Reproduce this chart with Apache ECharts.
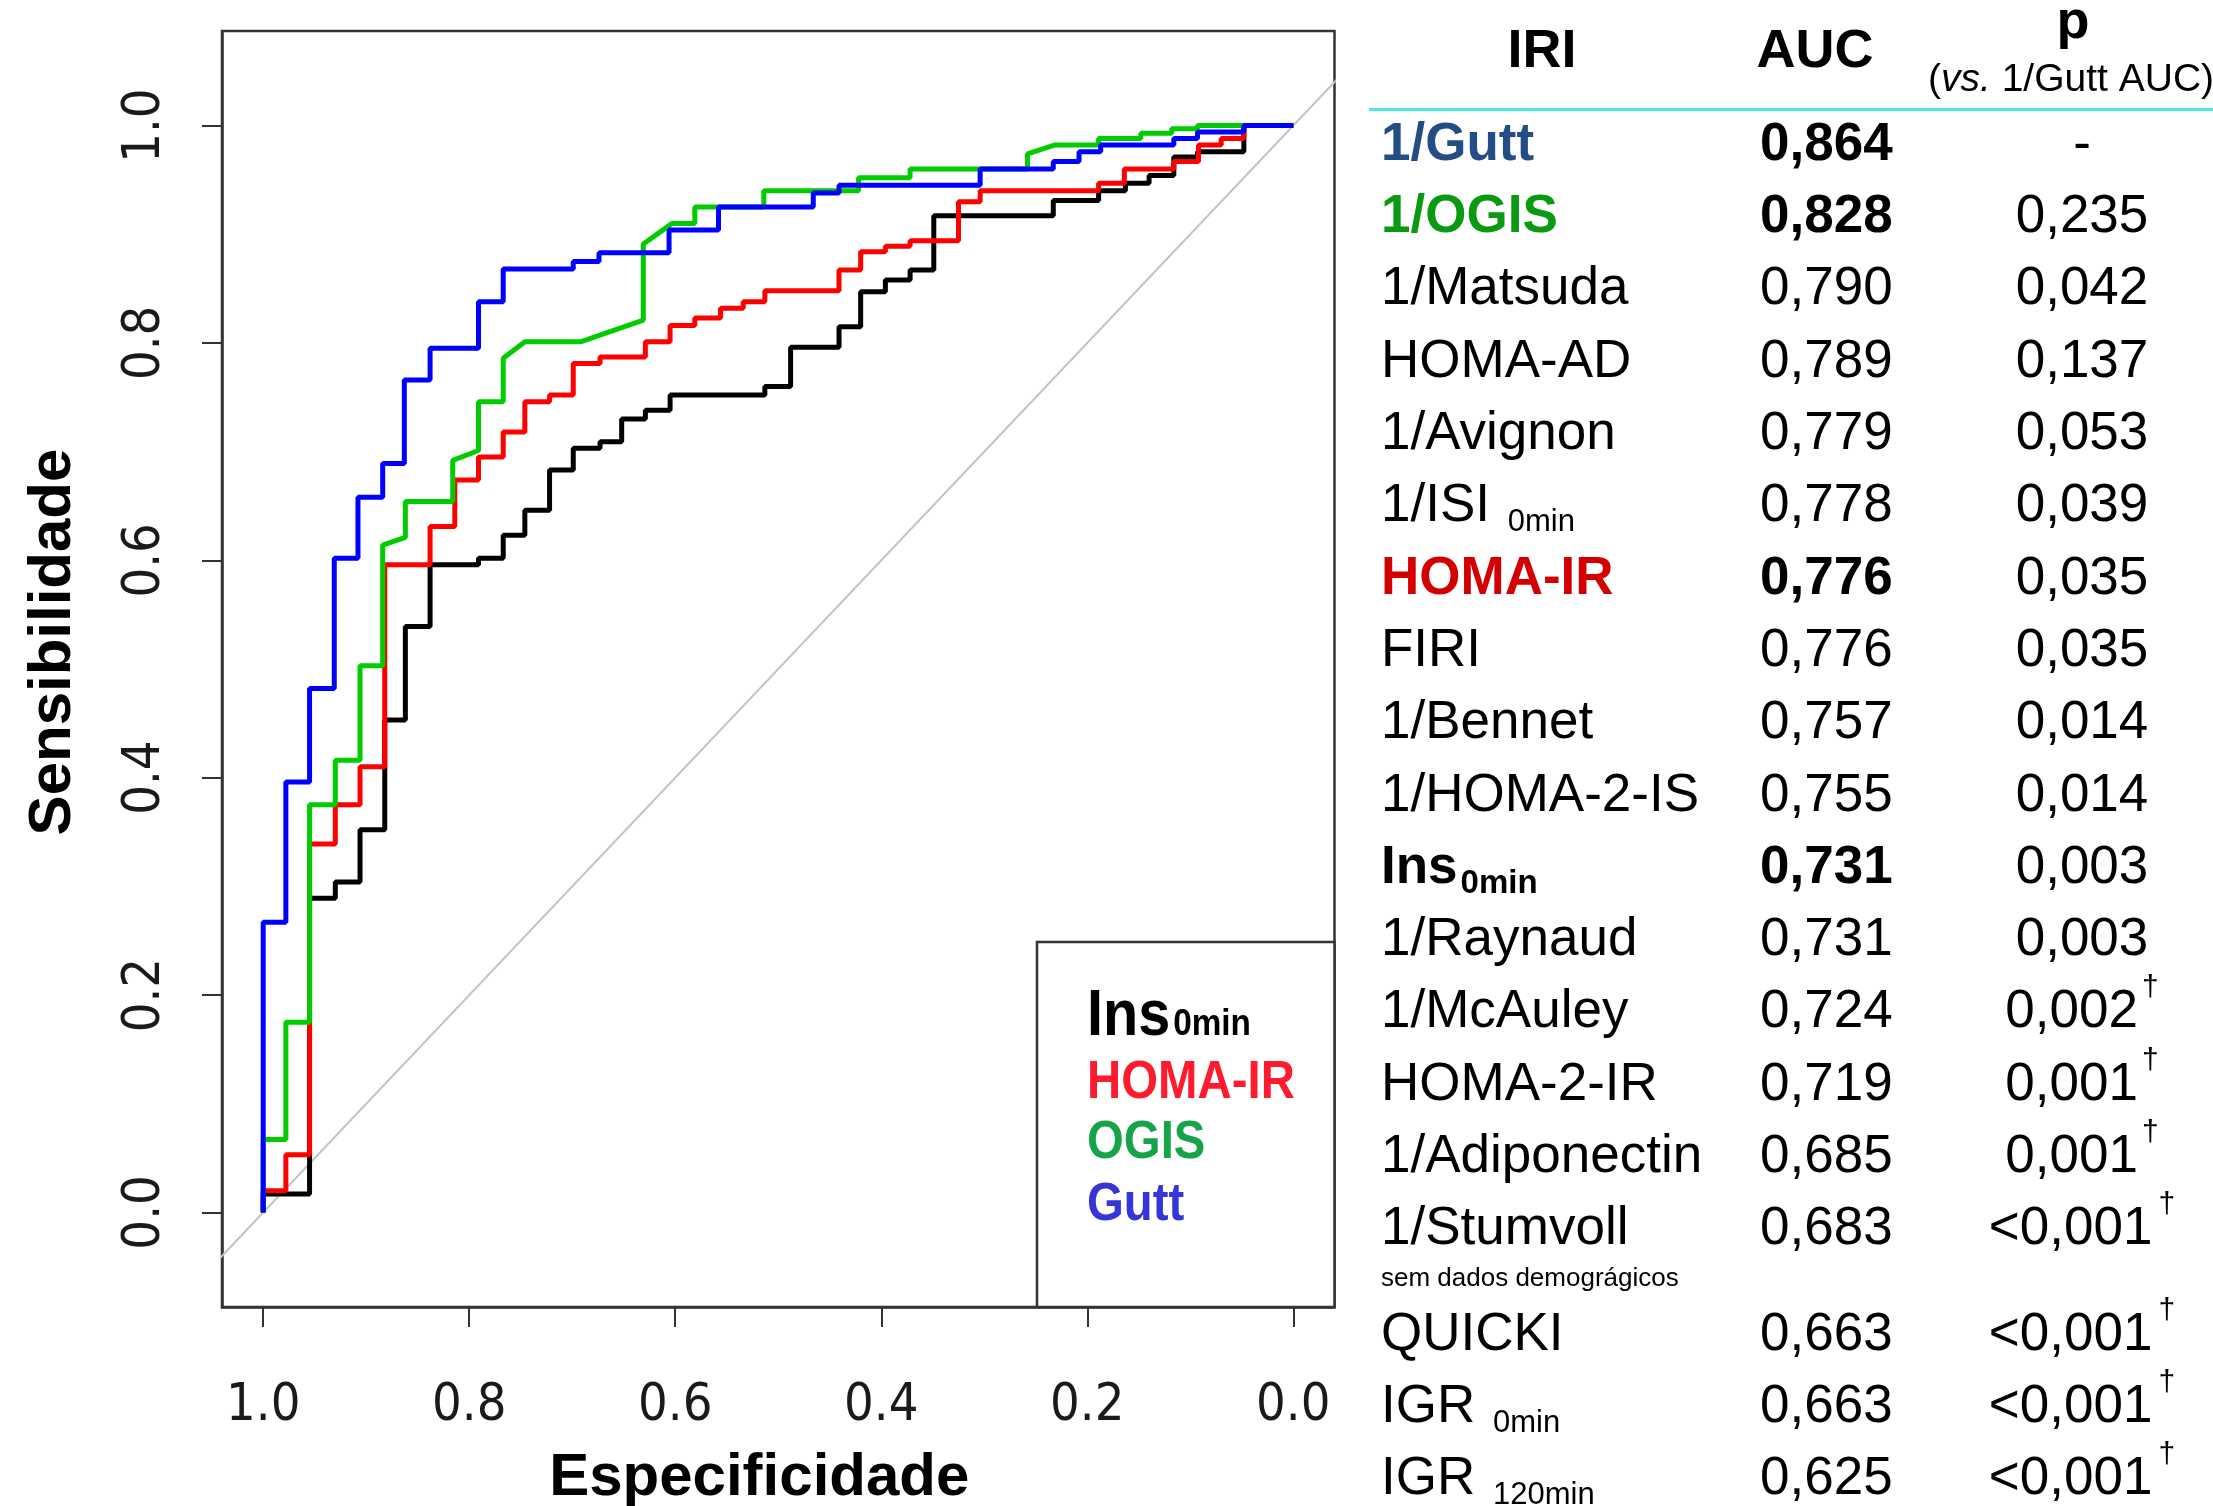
<!DOCTYPE html>
<html>
<head>
<meta charset="utf-8">
<script src="https://cdn.jsdelivr.net/npm/echarts@6/dist/echarts.min.js"></script>
<style>
  html, body { margin: 0; padding: 0; background: #fff; }
  #main { width: 2213px; height: 1506px; }
</style>
</head>
<body>
<div id="main"></div>
<script>
// ROC curves, vertices as [specificity, sensitivity]
var ins0min = [
  [1.0, 0], [1.0, 0.017], [0.955, 0.017], [0.955, 0.289], [0.930, 0.289], [0.930, 0.304],
  [0.906, 0.304], [0.906, 0.352], [0.882, 0.352], [0.882, 0.453], [0.862, 0.453], [0.862, 0.539],
  [0.838, 0.539], [0.838, 0.596], [0.791, 0.596], [0.791, 0.602], [0.767, 0.602], [0.767, 0.623],
  [0.746, 0.623], [0.746, 0.646], [0.722, 0.646], [0.722, 0.683], [0.699, 0.683], [0.699, 0.703],
  [0.673, 0.703], [0.673, 0.709], [0.652, 0.709], [0.652, 0.730], [0.629, 0.730], [0.629, 0.738],
  [0.605, 0.738], [0.605, 0.752], [0.513, 0.752], [0.513, 0.760], [0.488, 0.760], [0.488, 0.796],
  [0.441, 0.796], [0.441, 0.815], [0.420, 0.815], [0.420, 0.847], [0.396, 0.847], [0.396, 0.858],
  [0.372, 0.858], [0.372, 0.867], [0.349, 0.867], [0.349, 0.917], [0.233, 0.917], [0.233, 0.931],
  [0.189, 0.931], [0.189, 0.940], [0.163, 0.940], [0.163, 0.947], [0.140, 0.947], [0.140, 0.954],
  [0.116, 0.954], [0.116, 0.971], [0.093, 0.971], [0.093, 0.976], [0.048, 0.976], [0.048, 1.0], [0, 1.0]
];
var homaIr = [
  [1.0, 0], [1.0, 0.020], [0.978, 0.020], [0.978, 0.053], [0.955, 0.053], [0.955, 0.339],
  [0.930, 0.339], [0.930, 0.375], [0.906, 0.375], [0.906, 0.410], [0.882, 0.410], [0.882, 0.596],
  [0.838, 0.596], [0.838, 0.631], [0.814, 0.631], [0.814, 0.674], [0.791, 0.674], [0.791, 0.695],
  [0.767, 0.695], [0.767, 0.718], [0.746, 0.718], [0.746, 0.746], [0.722, 0.746], [0.722, 0.752],
  [0.699, 0.752], [0.699, 0.781], [0.673, 0.781], [0.673, 0.787], [0.629, 0.787], [0.629, 0.801],
  [0.605, 0.801], [0.605, 0.816], [0.581, 0.816], [0.581, 0.823], [0.556, 0.823], [0.556, 0.832],
  [0.534, 0.832], [0.534, 0.838], [0.513, 0.838], [0.513, 0.848], [0.441, 0.848], [0.441, 0.867],
  [0.420, 0.867], [0.420, 0.884], [0.396, 0.884], [0.396, 0.889], [0.372, 0.889], [0.372, 0.894],
  [0.325, 0.894], [0.325, 0.930], [0.304, 0.930], [0.304, 0.940], [0.189, 0.940], [0.189, 0.947],
  [0.164, 0.947], [0.164, 0.960], [0.116, 0.960], [0.116, 0.967], [0.092, 0.967], [0.092, 0.982],
  [0.070, 0.982], [0.070, 0.988], [0.048, 0.988], [0.048, 1.0], [0, 1.0]
];
var ogis = [
  [1.0, 0], [1.0, 0.067], [0.978, 0.067], [0.978, 0.175], [0.955, 0.175], [0.955, 0.375],
  [0.930, 0.375], [0.930, 0.416], [0.906, 0.416], [0.906, 0.503], [0.884, 0.503], [0.884, 0.614],
  [0.862, 0.621], [0.862, 0.654], [0.816, 0.654], [0.816, 0.692], [0.791, 0.701], [0.791, 0.746],
  [0.767, 0.746], [0.767, 0.786], [0.746, 0.801], [0.692, 0.801], [0.631, 0.821], [0.631, 0.891],
  [0.603, 0.910], [0.581, 0.910], [0.581, 0.925], [0.514, 0.925], [0.514, 0.940], [0.422, 0.940],
  [0.422, 0.952], [0.372, 0.952], [0.372, 0.960], [0.258, 0.960], [0.258, 0.974], [0.232, 0.982],
  [0.189, 0.982], [0.189, 0.988], [0.148, 0.988], [0.148, 0.993], [0.118, 0.993], [0.118, 0.997],
  [0.093, 0.997], [0.093, 1.0], [0, 1.0]
];
var gutt = [
  [1.0, 0], [1.0, 0.267], [0.978, 0.267], [0.978, 0.396], [0.955, 0.396], [0.955, 0.482],
  [0.931, 0.482], [0.931, 0.602], [0.908, 0.602], [0.908, 0.658], [0.884, 0.658], [0.884, 0.689],
  [0.863, 0.689], [0.863, 0.766], [0.838, 0.766], [0.838, 0.795], [0.791, 0.795], [0.791, 0.838],
  [0.767, 0.838], [0.767, 0.868], [0.699, 0.868], [0.699, 0.875], [0.674, 0.875], [0.674, 0.883],
  [0.606, 0.883], [0.606, 0.904], [0.558, 0.904], [0.558, 0.925], [0.466, 0.925], [0.466, 0.938],
  [0.441, 0.938], [0.441, 0.945], [0.304, 0.945], [0.304, 0.960], [0.233, 0.960], [0.233, 0.967],
  [0.208, 0.967], [0.208, 0.976], [0.187, 0.976], [0.187, 0.982], [0.116, 0.982], [0.116, 0.988],
  [0.093, 0.988], [0.093, 0.994], [0.048, 0.994], [0.048, 1.0], [0, 1.0]
];
var chance = [[1.2, -0.2], [-0.2, 1.2]];
var axisTicks = [0, 0.2, 0.4, 0.6, 0.8, 1.0];

// legend inside the plot
var legendNames = ['Ins', 'HOMA-IR', 'OGIS', 'Gutt'];
var legendColors = ['#000000', '#ff1a2e', '#17a34a', '#3535d9'];

// table on the right
var iriNames = ['1/Gutt', '1/OGIS', '1/Matsuda', 'HOMA-AD', '1/Avignon', '1/ISI ', 'HOMA-IR', 'FIRI',
  '1/Bennet', '1/HOMA-2-IS', 'Ins', '1/Raynaud', '1/McAuley', 'HOMA-2-IR', '1/Adiponectin',
  '1/Stumvoll', 'QUICKI', 'IGR ', 'IGR '];
var iriSubs = ['', '', '', '', '', '0min', '', '', '', '', '0min', '', '', '', '', '', '', '0min', '120min'];
var aucValues = ['0,864', '0,828', '0,790', '0,789', '0,779', '0,778', '0,776', '0,776', '0,757', '0,755',
  '0,731', '0,731', '0,724', '0,719', '0,685', '0,683', '0,663', '0,663', '0,625'];
var pValues = ['-', '0,235', '0,042', '0,137', '0,053', '0,039', '0,035', '0,035', '0,014', '0,014',
  '0,003', '0,003', '0,002', '0,001', '0,001', '<0,001', '<0,001', '<0,001', '<0,001'];
var pDagger = [0, 0, 0, 0, 0, 0, 0, 0, 0, 0, 0, 0, 1, 1, 1, 1, 1, 1, 1];
var boldRows = { 0: '#244d85', 1: '#0a9a12', 6: '#d40000', 10: '#000000' };
var stumvollNote = 'sem dados demográgicos';

var SANS = '"Liberation Sans", Arial, sans-serif';
var NARROW = '"Liberation Sans Narrow", "Arial Narrow", "DejaVu Sans Condensed", "Liberation Sans", sans-serif';
var ctx = document.createElement('canvas').getContext('2d');

function fontStr(size, bold, italic) {
  return (italic ? 'italic ' : '') + (bold ? 'bold ' : '') + size + 'px ' + SANS;
}
function textWidth(str, font) {
  ctx.font = font;
  return ctx.measureText(str).width;
}

// a run of text pieces (main text, subscripts, daggers) placed on one baseline
function textRun(parts, x, base, align, sx) {
  sx = sx || 1;
  var widths = parts.map(function (p) { return textWidth(p.t, fontStr(p.size, p.bold, p.italic)) * sx; });
  var total = 0;
  parts.forEach(function (p, i) { total += widths[i] + (p.gap || 0); });
  var x0 = align === 'center' ? x - total / 2 : x;
  var out = [];
  parts.forEach(function (p, i) {
    x0 += p.gap || 0;
    out.push({
      type: 'text', x: x0, y: base + (p.dy || 0) - 0.31 * p.size, scaleX: sx, silent: true,
      style: { text: p.t, font: fontStr(p.size, p.bold, p.italic), fill: p.color || '#000', align: 'left', verticalAlign: 'middle' }
    });
    x0 += widths[i];
  });
  return out;
}

var graphics = [];

// legend box
graphics.push({
  type: 'rect', shape: { x: 1037, y: 942, width: 297.5, height: 365 },
  style: { fill: '#fff', stroke: '#333', lineWidth: 2.5 }, z: 5
});
var legBase = [1036.7, 1100, 1160, 1221.7];
legendNames.forEach(function (n, i) {
  var parts = i === 0
    ? [{ t: n, size: 64, bold: true, color: legendColors[i] }, { t: '0min', size: 37, bold: true, color: legendColors[i], gap: 3 }]
    : [{ t: n, size: 53, bold: true, color: legendColors[i] }];
  textRun(parts, 1087, legBase[i], 'left', i === 0 ? 0.9 : 0.894).forEach(function (g) { g.z = 6; graphics.push(g); });
});

// table header
graphics = graphics.concat(
  textRun([{ t: 'IRI', size: 54, bold: true }], 1542, 69, 'center'),
  textRun([{ t: 'AUC', size: 54, bold: true }], 1815, 69, 'center'),
  textRun([{ t: 'p', size: 54, bold: true }], 2073, 40, 'center'),
  textRun([{ t: '(', size: 39 }, { t: 'vs.', size: 39, italic: true }, { t: ' 1/Gutt AUC)', size: 39 }], 1928, 92, 'left')
);
graphics.push({
  type: 'line', shape: { x1: 1369, y1: 109.5, x2: 2213, y2: 109.5 },
  style: { stroke: '#4ee6e6', lineWidth: 3 }
});

// table rows
iriNames.forEach(function (name, i) {
  var base = i < 16 ? 161.7 + 72.3 * i : 1352 + 72 * (i - 16);
  var col = boldRows[i];
  var bold = !!col;
  var nameParts = [{ t: name, size: 53, bold: bold, color: col || '#000' }];
  if (iriSubs[i]) {
    nameParts.push(bold
      ? { t: iriSubs[i], size: 33, bold: true, dy: 9, gap: 3 }
      : { t: iriSubs[i], size: 31, dy: 9, gap: 3 });
  }
  graphics = graphics.concat(textRun(nameParts, 1381, base, 'left'));
  graphics = graphics.concat(textRun([{ t: aucValues[i], size: 53, bold: bold }], 1760, base, 'left'));
  var pParts = [{ t: pValues[i], size: 53 }];
  if (pDagger[i]) pParts.push({ t: '†', size: 30, dy: -32, gap: pValues[i].charAt(0) === '<' ? 6 : 4 });
  graphics = graphics.concat(textRun(pParts, 2082, base, 'center'));
});
graphics = graphics.concat(textRun([{ t: stumvollNote, size: 26 }], 1381, 1286.5, 'left'));

var axisCommon = {
  type: 'value',
  nameLocation: 'middle',
  nameMoveOverlap: false,
  splitLine: { show: false },
  axisLine: { show: true, onZero: false, lineStyle: { color: '#333', width: 2.5 } },
  axisTick: { show: true, inside: false, length: 20, customValues: axisTicks, lineStyle: { color: '#333', width: 2 } },
  axisLabel: {
    customValues: axisTicks, fontSize: 52, fontFamily: NARROW, color: '#1a1a1a',
    formatter: function (v) { return v.toFixed(1); }
  },
  nameTextStyle: { fontSize: 60, fontWeight: 'bold', fontFamily: SANS, color: '#000' }
};

var option = {
  animation: false,
  backgroundColor: '#fff',
  grid: {
    left: 222, right: 878.5, top: 31, bottom: 199,
    show: true, borderColor: '#333', borderWidth: 2.5, backgroundColor: '#fff',
    containLabel: false, outerBoundsMode: 'none'
  },
  xAxis: echarts.util.merge({
    inverse: true, min: -0.04, max: 1.04,
    name: 'Especificidade', nameGap: 141,
    axisLabel: { margin: 73 },
    nameTextStyle: { padding: [0, 38, 0, 0] }
  }, axisCommon),
  yAxis: echarts.util.merge({
    min: -0.087, max: 1.087,
    name: 'Sensibilidade', nameGap: 139,
    axisLabel: { margin: 51, rotate: 90 },
    nameTextStyle: { padding: [0, 0, 0, 54] }
  }, axisCommon),
  series: [
    { name: 'chance', type: 'line', data: chance, symbol: 'none', silent: true,
      lineStyle: { color: '#c4c4c4', width: 2 } },
    { name: 'Ins0min', type: 'line', data: ins0min, symbol: 'none',
      lineStyle: { color: '#000000', width: 5 } },
    { name: 'HOMA-IR', type: 'line', data: homaIr, symbol: 'none',
      lineStyle: { color: '#ff0000', width: 5 } },
    { name: 'OGIS', type: 'line', data: ogis, symbol: 'none',
      lineStyle: { color: '#00cc00', width: 5 } },
    { name: 'Gutt', type: 'line', data: gutt, symbol: 'none',
      lineStyle: { color: '#0000ff', width: 5 } }
  ],
  graphic: graphics
};

var chart = echarts.init(document.getElementById('main'));
chart.setOption(option);
</script>
</body>
</html>
